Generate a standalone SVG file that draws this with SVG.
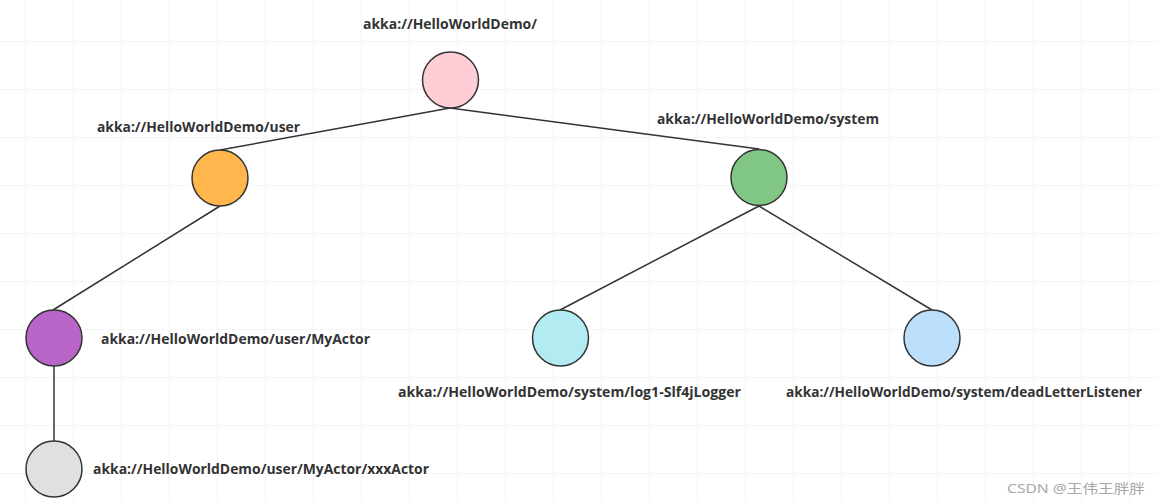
<svg xmlns="http://www.w3.org/2000/svg" width="1157" height="503" viewBox="0 0 1157 503">
<defs>
<pattern id="grid" x="25" y="41" width="48" height="48" patternUnits="userSpaceOnUse">
<path d="M0 0H48M0 0V48" fill="none" stroke="#ebebeb" stroke-width="1"/>
</pattern>
<style>
.n{stroke:#333;stroke-width:1.5}
.t{font-family:"Open Sans","Noto Sans","DejaVu Sans",sans-serif;font-weight:bold;font-size:14px;fill:#333}
.e{stroke:#333;stroke-width:1.5;fill:none}
</style>
</defs>
<rect width="1157" height="503" fill="#fff"/>
<rect width="1157" height="503" fill="url(#grid)"/>
<g id="connectors">
<line class="e" x1="450" y1="108" x2="220" y2="150"/>
<line class="e" x1="450" y1="108" x2="759" y2="149"/>
<line class="e" x1="220" y1="206" x2="53" y2="310"/>
<line class="e" x1="759" y1="206" x2="560" y2="310"/>
<line class="e" x1="759" y1="206" x2="932" y2="310"/>
<line class="e" x1="54" y1="366" x2="54" y2="441"/>
</g>
<g id="root">
<circle class="n" cx="450.5" cy="80" r="28" fill="#ffcdd6"/>
<text class="t" x="363" y="29" textLength="174" lengthAdjust="spacingAndGlyphs">akka://HelloWorldDemo/</text>
</g>
<g id="user">
<circle class="n" cx="220" cy="178" r="28" fill="#ffb74d"/>
<text class="t" x="97" y="132" textLength="203" lengthAdjust="spacingAndGlyphs">akka://HelloWorldDemo/user</text>
</g>
<g id="system">
<circle class="n" cx="759" cy="177.5" r="28" fill="#81c784"/>
<text class="t" x="657" y="124" textLength="222" lengthAdjust="spacingAndGlyphs">akka://HelloWorldDemo/system</text>
</g>
<g id="myactor">
<circle class="n" cx="54" cy="338" r="28" fill="#b865c7"/>
<text class="t" x="101" y="344" textLength="269" lengthAdjust="spacingAndGlyphs">akka://HelloWorldDemo/user/MyActor</text>
</g>
<g id="xxxactor">
<circle class="n" cx="54" cy="469" r="28" fill="#e0e0e0"/>
<text class="t" x="93" y="474" textLength="336" lengthAdjust="spacingAndGlyphs">akka://HelloWorldDemo/user/MyActor/xxxActor</text>
</g>
<g id="logger">
<circle class="n" cx="560.5" cy="338" r="28" fill="#b2ebf2"/>
<text class="t" x="398" y="397" textLength="343" lengthAdjust="spacingAndGlyphs">akka://HelloWorldDemo/system/log1-Slf4jLogger</text>
</g>
<g id="deadletter">
<circle class="n" cx="932" cy="338" r="28" fill="#bbdefb"/>
<text class="t" x="786" y="397" textLength="356" lengthAdjust="spacingAndGlyphs">akka://HelloWorldDemo/system/deadLetterListener</text>
</g>
<text x="1007" y="493" font-family="'Noto Sans','Noto Sans CJK SC',sans-serif" font-size="13" fill="#a8a8a8" textLength="138" lengthAdjust="spacingAndGlyphs">CSDN @王伟王胖胖</text>
</svg>
